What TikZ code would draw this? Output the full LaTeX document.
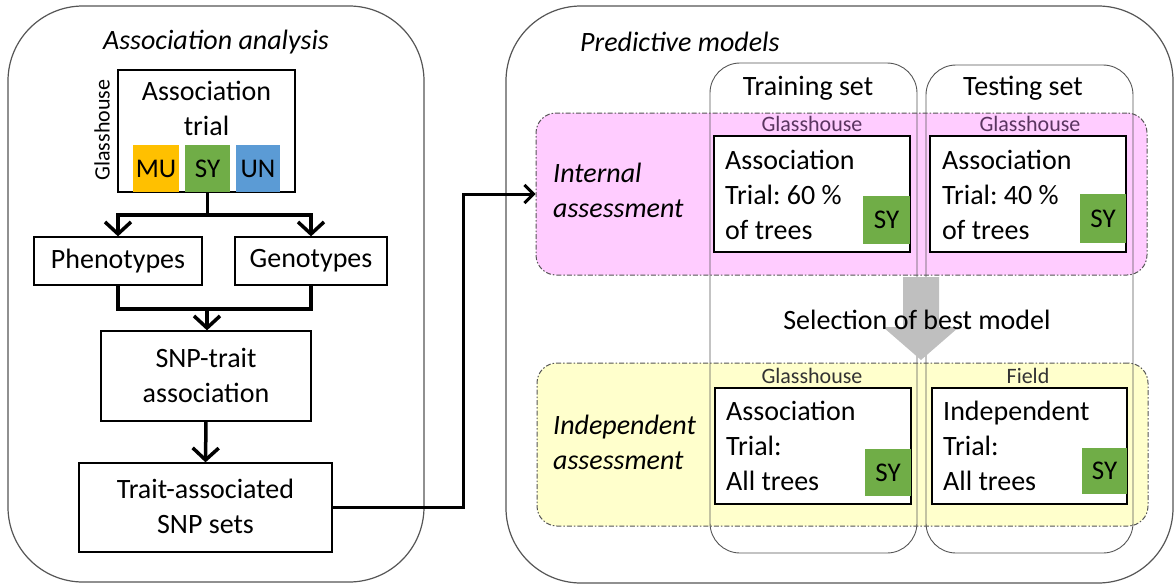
\documentclass[tikz,border=0pt]{standalone}
\usepackage{fontspec}
\setmainfont{Carlito}
\usetikzlibrary{arrows.meta}
\frenchspacing
\definecolor{mucol}{HTML}{FFC000}
\definecolor{sycol}{HTML}{70AD47}
\definecolor{uncol}{HTML}{5B9BD5}
\definecolor{pinkfill}{HTML}{FFCCFF}
\definecolor{yelfill}{HTML}{FFFFCC}
\definecolor{arrgray}{HTML}{BFBFBF}
\definecolor{edgecol}{HTML}{555555}
\definecolor{lblcol}{HTML}{5A3560}
\begin{document}
\begin{tikzpicture}[x=1pt,y=-1pt,
  txt/.style={font=\fontsize{28}{35}\selectfont, inner sep=0pt},
  itxt/.style={font=\fontsize{28}{35}\selectfont\itshape, inner sep=0pt},
  smalltxt/.style={font=\fontsize{22}{26}\selectfont, inner sep=0pt, text=lblcol},
  bigpanel/.style={draw=edgecol, line width=1.2pt, rounded corners=75pt, inner sep=0pt},
  setpanel/.style={draw=edgecol, line width=0.9pt, rounded corners=30pt, inner sep=0pt},
  zone/.style={draw=edgecol, line width=1pt, dash pattern=on 5pt off 2pt on 1.5pt off 2pt, rounded corners=20pt, inner sep=0pt},
  bx/.style={draw=black, line width=1.3pt, fill=white, inner sep=0pt},
  chip/.style={inner sep=0pt, font=\fontsize{27}{30}\selectfont},
  flow/.style={line width=3.5pt, -{Straight Barb[length=12pt,width=26pt,line width=3.5pt]}},
  flowline/.style={line width=3.5pt},
  link/.style={line width=3pt, -{Straight Barb[length=9pt,width=18pt,line width=3pt]}}
]
\useasboundingbox (0,0) rectangle (1176,584);

% ---------- left panel ----------
\node[bigpanel, minimum width=416pt, minimum height=576pt] (leftp) at (216,294) {};
\node[itxt] (lefttitle) at (216,42) {Association analysis};

\node[bx, minimum width=177pt, minimum height=122pt] (trial) at (206.5,131) {};
\node[txt, align=center] (trialtxt) at (206.5,108) {Association\\trial};
\node[chip, fill=mucol, minimum width=46pt, minimum height=47pt] (mu) at (156,168.5) {MU};
\node[chip, fill=sycol, minimum width=45pt, minimum height=47pt] (sy) at (207.5,168.5) {SY};
\node[chip, fill=uncol, minimum width=44pt, minimum height=47pt] (un) at (258,168.5) {UN};
\node[font=\fontsize{22}{26}\selectfont, inner sep=0pt, rotate=90] (gh0) at (102,130) {Glasshouse};

\node[bx, minimum width=168pt, minimum height=48pt] (phen) at (118,261) {};
\node[txt] (phentxt) at (118,261) {Phenotypes};
\node[bx, minimum width=152pt, minimum height=48pt] (geno) at (311,261) {};
\node[txt] (genotxt) at (311,261) {Genotypes};

\node[bx, minimum width=210pt, minimum height=90pt] (snp) at (206,376) {};
\node[txt, align=center] (snptxt) at (206,375) {SNP-trait\\association};

\node[bx, minimum width=253pt, minimum height=89pt] (trait) at (205.5,507.5) {};
\node[txt, align=center] (traittxt) at (205.5,506) {Trait-associated\\SNP sets};

\coordinate (split) at (207.5,215);
\coordinate (merge) at (207,309);
\draw[flowline] (sy.south) -- (split);
\draw[flow] (split) -| (phen.north);
\draw[flow] (split) -| (geno.north);
\draw[flowline] (phen.south) |- (merge) -| (geno.south);
\draw[flow] (merge) -- (merge |- snp.north);
\draw[flow] (snp.south) -- (trait.north);

% ---------- right panel ----------
\node[bigpanel, minimum width=667pt, minimum height=577pt] (rightp) at (839.5,294.5) {};
\node[itxt, anchor=west] (righttitle) at (580,42) {Predictive models};

\node[zone, fill=pinkfill, minimum width=611pt, minimum height=162pt] (pink) at (841.5,194) {};
\node[zone, fill=yelfill, minimum width=611pt, minimum height=163pt] (yel) at (842.5,444.5) {};

\node[setpanel, minimum width=207pt, minimum height=490pt] (train) at (813.5,308) {};
\node[setpanel, minimum width=207pt, minimum height=488pt] (test) at (1029.5,309) {};
\node[txt] (traintitle) at (808,88) {Training set};
\node[txt] (testtitle) at (1023,88) {Testing set};

\node[itxt, align=left, anchor=west] (internal) at (553,190) {Internal\\assessment};
\node[itxt, align=left, anchor=west] (independent) at (553,442) {Independent\\assessment};

% internal assessment boxes
\node[smalltxt] (gh1) at (812,124) {Glasshouse};
\node[smalltxt] (gh2) at (1030,124) {Glasshouse};
\node[bx, minimum width=196pt, minimum height=116pt] (tr1) at (812,194) {};
\node[bx, minimum width=196pt, minimum height=116pt] (te1) at (1028,194) {};
\node[txt, align=left, anchor=west] (tr1txt) at (725,195) {Association\\Trial: 60 \%\\of trees};
\node[txt, align=left, anchor=west] (te1txt) at (942,195) {Association\\Trial: 40 \%\\of trees};
\node[chip, fill=sycol, minimum width=47pt, minimum height=48pt] (sy1) at (886.5,220) {SY};
\node[chip, fill=sycol, minimum width=46pt, minimum height=49pt] (sy2) at (1103,218.5) {SY};

% independent assessment boxes
\node[smalltxt, text=black!80] (gh3) at (812,376) {Glasshouse};
\node[smalltxt, text=black!80] (fld) at (1028,376) {Field};
\node[bx, minimum width=196pt, minimum height=116pt] (tr2) at (813,446) {};
\node[bx, minimum width=195pt, minimum height=116pt] (te2) at (1029.5,446) {};
\node[txt, align=left, anchor=west] (tr2txt) at (726,446) {Association\\Trial:\\All trees};
\node[txt, align=left, anchor=west] (te2txt) at (943,446) {Independent\\Trial:\\All trees};
\node[chip, fill=sycol, minimum width=46pt, minimum height=47pt] (sy3) at (888,472.5) {SY};
\node[chip, fill=sycol, minimum width=45pt, minimum height=46pt] (sy4) at (1104.5,471) {SY};

% selection arrow
\fill[arrgray] (903,277) -- (939,277) -- (939,327) -- (959,327) -- (921,360) -- (883,327) -- (903,327) -- cycle;
\node[txt] (selection) at (917,320) {Selection of best model};

% link between panels
\coordinate (bend) at (463,300);
\draw[link] (trait.east) -- (trait.east -| bend) |- (pink.west);
\end{tikzpicture}
\end{document}
